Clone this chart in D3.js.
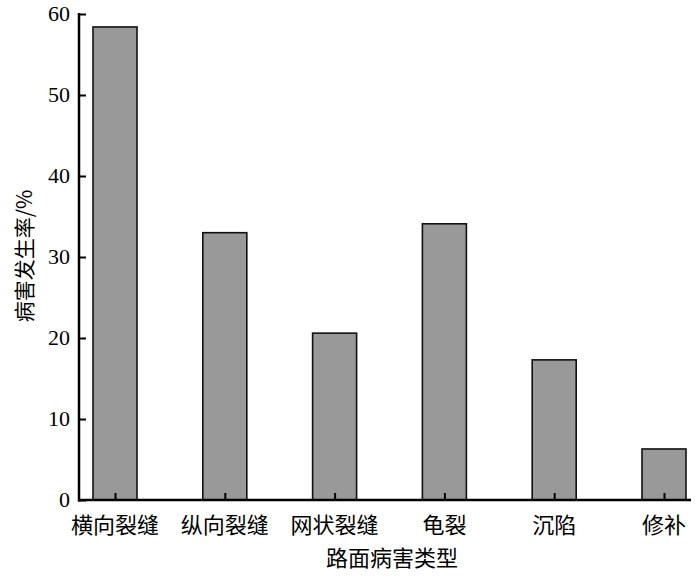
<!DOCTYPE html>
<html><head><meta charset="utf-8">
<script src="https://cdn.jsdelivr.net/npm/d3@7"></script>
<style>body{margin:0;background:#fff}</style>
</head><body>
<svg id="c" width="700" height="576"></svg>
<script>
const categories = ["横向裂缝","纵向裂缝","网状裂缝","龟裂","沉陷","修补"];
const values = [58.4, 33.0, 20.6, 34.1, 17.3, 6.3];
const yTicks = [0,10,20,30,40,50,60];
const xTitle = "路面病害类型";
const yTitle = "病害发生率/%";

const svg = d3.select("#c");
const axisX0 = 79, axisX1 = 691, y0 = 500, yTop = 14;
const x = d3.scalePoint().domain(categories).range([115, 664]);
const y = d3.scaleLinear().domain([0,60]).range([y0, yTop]);
const bw = 44;
const serif = "'Liberation Serif','Times New Roman',serif";
const cjk = "'Noto Sans CJK SC','Noto Sans CJK JP',sans-serif";

svg.selectAll("rect.bar").data(values).enter().append("rect")
  .attr("class","bar")
  .attr("x",(d,i)=>x(categories[i])-bw/2)
  .attr("y",d=>y(d))
  .attr("width",bw)
  .attr("height",d=>y0-y(d))
  .attr("fill","#999999").attr("stroke","#111").attr("stroke-width",1.6);

// y axis
const ya = svg.append("g").attr("transform",`translate(${axisX0},0)`)
  .call(d3.axisRight(y).tickValues(yTicks).tickSize(7).tickFormat(""));
ya.select(".domain").remove();
ya.selectAll("line").attr("stroke","#000").attr("stroke-width",2);
svg.append("line").attr("x1",axisX0).attr("x2",axisX0).attr("y1",yTop-1).attr("y2",y0+1.5)
  .attr("stroke","#000").attr("stroke-width",2.5);
svg.selectAll("text.yt").data(yTicks).enter().append("text")
  .attr("x",70).attr("y",d=>y(d)+7).attr("text-anchor","end")
  .attr("font-family",serif).attr("font-size",22).text(d=>d);

// x axis
const xa = svg.append("g").attr("transform",`translate(0,${y0})`)
  .call(d3.axisTop(x).tickSize(7).tickFormat(""));
xa.select(".domain").remove();
xa.selectAll("line").attr("stroke","#000").attr("stroke-width",2);
svg.append("line").attr("x1",axisX0-1).attr("x2",axisX1).attr("y1",y0).attr("y2",y0)
  .attr("stroke","#000").attr("stroke-width",2.5);
svg.selectAll("text.xt").data(categories).enter().append("text")
  .attr("x",d=>x(d)).attr("y",533).attr("text-anchor","middle")
  .attr("font-family",cjk).attr("font-size",22).text(d=>d);

svg.append("text").attr("x",392).attr("y",566).attr("text-anchor","middle")
  .attr("font-family",cjk).attr("font-size",22).text(xTitle);
svg.append("text").attr("transform","translate(32,256) rotate(-90)").attr("text-anchor","middle")
  .attr("font-family",cjk).attr("font-size",21).text(yTitle);
</script>
</body></html>
